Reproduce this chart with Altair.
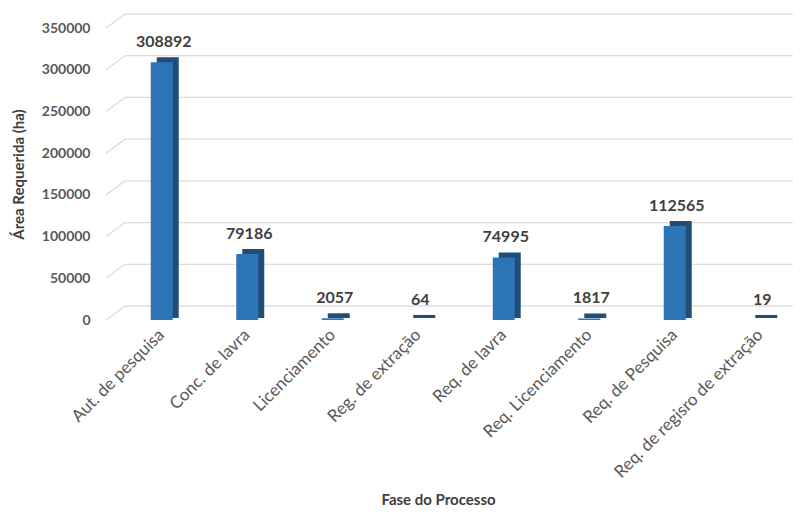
import altair as alt
import pandas as pd

categories = ["Aut. de pesquisa", "Conc. de lavra", "Licenciamento", "Reg. de extração",
              "Req. de lavra", "Req. Licenciamento", "Req. de Pesquisa", "Req. de regisro de extração"]
values = [308892, 79186, 2057, 64, 74995, 1817, 112565, 19]
tick_values = [0, 50000, 100000, 150000, 200000, 250000, 300000, 350000]

df = pd.DataFrame({"fase": categories, "area": values})
grid_df = pd.DataFrame({"v": tick_values})

FONT = "Lato"
W, H = 697, 292
YTITLE = "Área Requerida (ha)"
yscale = alt.Scale(domain=[0, 350000], nice=False)
yaxis = alt.Axis(values=tick_values, format="d",
                 labelFont=FONT, labelFontSize=14, labelFontWeight="bold",
                 labelColor="#595959", labelPadding=16, domain=False, ticks=False,
                 grid=False,
                 titleFont=FONT, titleFontSize=15, titleFontWeight="bold",
                 titleColor="#404040", titlePadding=15)
x = alt.X("fase:N", sort=categories, title="Fase do Processo",
          scale=alt.Scale(paddingInner=0.0, paddingOuter=0.076, align=1),
          axis=alt.Axis(labelAngle=-45, labelAlign="right", labelBaseline="middle",
                        labelFont=FONT, labelFontSize=17, labelColor="#595959",
                        labelPadding=12, labelLimit=400, domain=False, ticks=False, grid=False,
                        titleFont=FONT, titleFontSize=15, titleFontWeight="bold",
                        titleColor="#404040", titlePadding=12, titleX=332))
y = alt.Y("area:Q", title=YTITLE, scale=yscale, axis=yaxis)
gy = alt.Y("v:Q", title=YTITLE, scale=yscale, axis=yaxis)

grid_h = alt.Chart(grid_df).mark_rule(color="#dcdcdc", strokeWidth=1.3, yOffset=-14).encode(
    y=gy, x=alt.value(19), x2=alt.value(W - 10))
grid_d = alt.Chart(grid_df).mark_rule(color="#dcdcdc", strokeWidth=1.3, y2Offset=-14).encode(
    y=gy, y2=alt.Y2("v:Q"), x=alt.value(0), x2=alt.value(19))

base = alt.Chart(df)
back = base.mark_bar(size=22, color="#1f4e79", xOffset=6, x2Offset=6, yOffset=-5, y2Offset=-2).encode(
    x=x, y=y, y2=alt.datum(0))
front = base.mark_bar(size=22, color="#2e75b6").encode(x=x, y=y)
labels = base.mark_text(dy=-20, dx=2, font=FONT, fontSize=16, fontWeight="bold",
                        color="#404040").encode(x=x, y=y, text=alt.Text("area:Q", format="d"))

chart = alt.layer(grid_h, grid_d, back, front, labels).properties(
    width=W, height=H,
    padding={"top": 5, "left": 3, "right": 0, "bottom": 0},
).configure_view(stroke=None)
chart.save("out.html", embed_options={"renderer": "svg", "actions": False})
